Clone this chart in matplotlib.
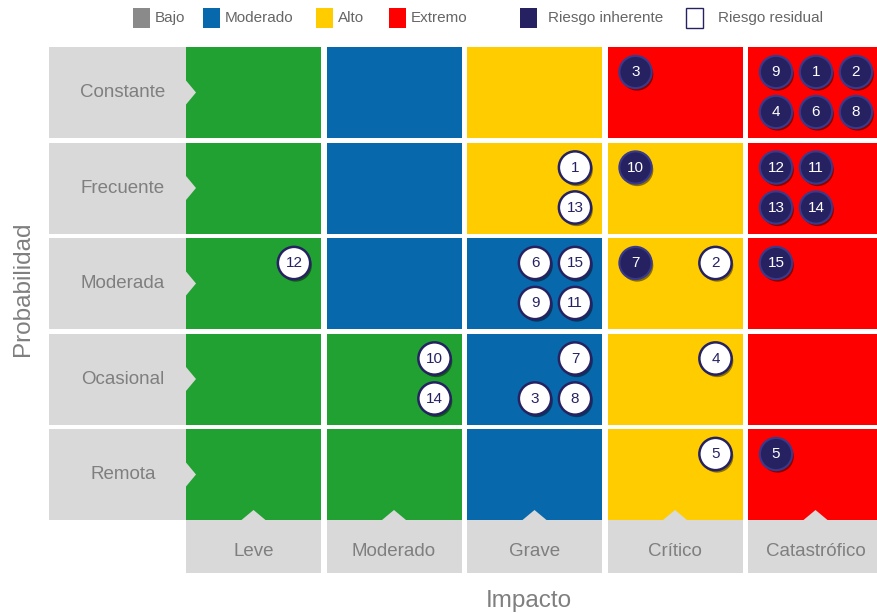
import matplotlib.pyplot as plt
import matplotlib.patheffects as pe
from matplotlib.patches import Rectangle, Polygon

plt.rcParams['font.family'] = ['Liberation Sans', 'DejaVu Sans']

probabilidad = ["Constante", "Frecuente", "Moderada", "Ocasional", "Remota"]
impacto = ["Leve", "Moderado", "Grave", "Crítico", "Catastrófico"]

# nivel de riesgo de cada celda (filas: probabilidad, columnas: impacto)
niveles = [
    ["Bajo", "Moderado", "Alto", "Extremo", "Extremo"],
    ["Bajo", "Moderado", "Alto", "Alto", "Extremo"],
    ["Bajo", "Moderado", "Moderado", "Alto", "Extremo"],
    ["Bajo", "Bajo", "Moderado", "Alto", "Extremo"],
    ["Bajo", "Bajo", "Moderado", "Alto", "Extremo"],
]
color_celda = {"Bajo": "#21a132", "Moderado": "#0868ac", "Alto": "#ffcc00", "Extremo": "#ff0000"}

leyenda_niveles = ["Bajo", "Moderado", "Alto", "Extremo"]
leyenda_colores = ["#8a8a8a", "#0868ac", "#ffcc00", "#ff0000"]

# riesgo inherente: numero, impacto, probabilidad, hueco dentro de la celda (col, fila)
inh_id = [3, 9, 1, 2, 4, 6, 8, 10, 12, 11, 13, 14, 7, 15, 5]
inh_imp = ["Crítico", "Catastrófico", "Catastrófico", "Catastrófico", "Catastrófico",
           "Catastrófico", "Catastrófico", "Crítico", "Catastrófico", "Catastrófico",
           "Catastrófico", "Catastrófico", "Crítico", "Catastrófico", "Catastrófico"]
inh_prob = ["Constante", "Constante", "Constante", "Constante", "Constante", "Constante",
            "Constante", "Frecuente", "Frecuente", "Frecuente", "Frecuente", "Frecuente",
            "Moderada", "Moderada", "Remota"]
inh_slot = [(0, 0), (0, 0), (1, 0), (2, 0), (0, 1), (1, 1), (2, 1), (0, 0), (0, 0), (1, 0),
            (0, 1), (1, 1), (0, 0), (0, 0), (0, 0)]

# riesgo residual
res_id = [1, 13, 12, 6, 15, 9, 11, 2, 10, 14, 7, 3, 8, 4, 5]
res_imp = ["Grave", "Grave", "Leve", "Grave", "Grave", "Grave", "Grave", "Crítico",
           "Moderado", "Moderado", "Grave", "Grave", "Grave", "Crítico", "Crítico"]
res_prob = ["Frecuente", "Frecuente", "Moderada", "Moderada", "Moderada", "Moderada",
            "Moderada", "Moderada", "Ocasional", "Ocasional", "Ocasional", "Ocasional",
            "Ocasional", "Ocasional", "Remota"]
res_slot = [(2, 0), (2, 1), (2, 0), (1, 0), (2, 0), (1, 1), (2, 1), (2, 0), (2, 0), (2, 1),
            (2, 0), (1, 1), (2, 1), (2, 0), (2, 0)]

navy = "#262262"
gris = "#d9d9d9"
texto = "#7f7f7f"

# layout: one unit = one cell pitch (140.5 px wide, 95.5 px tall)
PX_W, PX_H = 140.5, 95.5
X0, Y0 = 186, 47
CW, CH = 135 / PX_W, 91 / PX_H


def px2x(px):
    return (px - X0) / PX_W


def px2y(px):
    return (px - Y0) / PX_H


fig = plt.figure(figsize=(8.78, 6.13), dpi=100)
ax = fig.add_axes([0, 0, 1, 1])
ax.set_xlim(px2x(0), px2x(878))
ax.set_ylim(px2y(613), px2y(0))
ax.axis("off")

# colored cells
for j, fila in enumerate(niveles):
    for i, nivel in enumerate(fila):
        ax.add_patch(Rectangle((i, j), CW, CH, color=color_celda[nivel], lw=0))

# row labels with arrow
for j, nombre in enumerate(probabilidad):
    ax.add_patch(Rectangle((px2x(49), j), -px2x(49), CH, color=gris, lw=0))
    yc = j + CH / 2
    ax.add_patch(Polygon([(0, yc - 12 / PX_H), (10 / PX_W, yc), (0, yc + 12 / PX_H)],
                         color=gris, lw=0))
    ax.text(px2x(123), yc, nombre, ha="center", va="center", fontsize=13.5, color=texto)

# column labels with arrow
yb = 4 + CH
for i, nombre in enumerate(impacto):
    ax.add_patch(Rectangle((i, yb), CW, px2y(573) - yb, color=gris, lw=0))
    xc = i + CW / 2
    ax.add_patch(Polygon([(xc - 12 / PX_W, yb), (xc, yb - 10 / PX_H), (xc + 12 / PX_W, yb)],
                         color=gris, lw=0))
    ax.text(xc, px2y(551), nombre, ha="center", va="center", fontsize=13.5, color=texto)

ax.text(px2x(529), px2y(601), "Impacto", ha="center", va="center", fontsize=17.5, color=texto)
ax.text(px2x(23), px2y(289), "Probabilidad", ha="center", va="center", fontsize=17.5,
        color=texto, rotation=90)


def posiciones(imps, probs, slots):
    xs = [impacto.index(a) + (28 + 40 * s[0]) / PX_W for a, s in zip(imps, slots)]
    ys = [probabilidad.index(b) + (25 + 40 * s[1]) / PX_H for b, s in zip(probs, slots)]
    return xs, ys


sombra = [pe.SimplePatchShadow(offset=(1.2, -1.8), shadow_rgbFace="black", alpha=0.45), pe.Normal()]

xs, ys = posiciones(inh_imp, inh_prob, inh_slot)
ax.scatter(xs, ys, s=540, c=navy, edgecolors="#3a3a8c", linewidths=1.5, zorder=3,
           path_effects=sombra)
for n, x, y in zip(inh_id, xs, ys):
    ax.text(x, y, str(n), ha="center", va="center", fontsize=11, color="white", zorder=4)

xs, ys = posiciones(res_imp, res_prob, res_slot)
ax.scatter(xs, ys, s=540, c="white", edgecolors=navy, linewidths=1.8, zorder=3,
           path_effects=sombra)
for n, x, y in zip(res_id, xs, ys):
    ax.text(x, y, str(n), ha="center", va="center", fontsize=11, color=navy, zorder=4)

# legend
ley_x = [133, 203, 316, 389]
for px, nombre, col in zip(ley_x, leyenda_niveles, leyenda_colores):
    ax.add_patch(Rectangle((px2x(px), px2y(8)), 17 / PX_W, 20 / PX_H, color=col, lw=0))
    ax.text(px2x(px + 22), px2y(18), nombre, ha="left", va="center", fontsize=11, color="#666666")
ax.add_patch(Rectangle((px2x(520), px2y(8)), 17 / PX_W, 20 / PX_H, color=navy, lw=0))
ax.text(px2x(548), px2y(18), "Riesgo inherente", ha="left", va="center", fontsize=11, color="#666666")
ax.add_patch(Rectangle((px2x(686), px2y(8)), 17 / PX_W, 20 / PX_H, facecolor="white",
                       edgecolor=navy, lw=1))
ax.text(px2x(718), px2y(18), "Riesgo residual", ha="left", va="center", fontsize=11, color="#666666")

fig.savefig("out.png", dpi=100)
